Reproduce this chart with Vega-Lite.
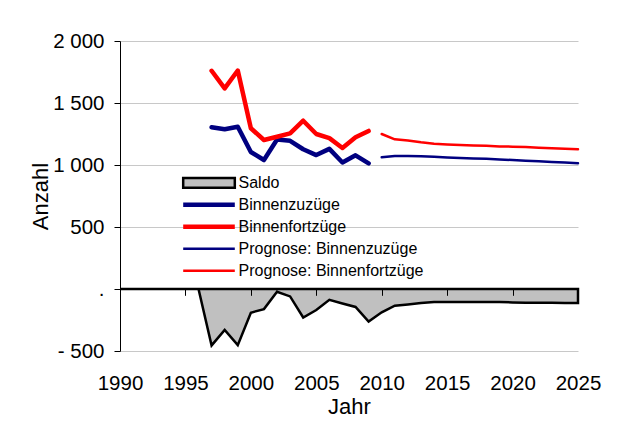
{
  "$schema": "https://vega.github.io/schema/vega-lite/v6.json",
  "width": 458,
  "height": 310,
  "autosize": {"type": "none"},
  "padding": {"left": 120, "top": 41, "right": 47, "bottom": 81},
  "background": "white",
  "config": {"font": "Liberation Sans", "view": {"stroke": null}},
  "data": {
    "values": [
      {"Jahr": 1990, "Reihe": "Saldo", "Anzahl": 0},
      {"Jahr": 1991, "Reihe": "Saldo", "Anzahl": 0},
      {"Jahr": 1992, "Reihe": "Saldo", "Anzahl": 0},
      {"Jahr": 1993, "Reihe": "Saldo", "Anzahl": 0},
      {"Jahr": 1994, "Reihe": "Saldo", "Anzahl": 0},
      {"Jahr": 1995, "Reihe": "Saldo", "Anzahl": 0},
      {"Jahr": 1996, "Reihe": "Saldo", "Anzahl": 0},
      {"Jahr": 1997, "Reihe": "Saldo", "Anzahl": -455},
      {"Jahr": 1998, "Reihe": "Saldo", "Anzahl": -330},
      {"Jahr": 1999, "Reihe": "Saldo", "Anzahl": -453},
      {"Jahr": 2000, "Reihe": "Saldo", "Anzahl": -191},
      {"Jahr": 2001, "Reihe": "Saldo", "Anzahl": -162},
      {"Jahr": 2002, "Reihe": "Saldo", "Anzahl": -23},
      {"Jahr": 2003, "Reihe": "Saldo", "Anzahl": -60},
      {"Jahr": 2004, "Reihe": "Saldo", "Anzahl": -230},
      {"Jahr": 2005, "Reihe": "Saldo", "Anzahl": -170},
      {"Jahr": 2006, "Reihe": "Saldo", "Anzahl": -87},
      {"Jahr": 2007, "Reihe": "Saldo", "Anzahl": -117},
      {"Jahr": 2008, "Reihe": "Saldo", "Anzahl": -145},
      {"Jahr": 2009, "Reihe": "Saldo", "Anzahl": -262},
      {"Jahr": 2010, "Reihe": "Saldo", "Anzahl": -188},
      {"Jahr": 2011, "Reihe": "Saldo", "Anzahl": -135},
      {"Jahr": 2012, "Reihe": "Saldo", "Anzahl": -125},
      {"Jahr": 2013, "Reihe": "Saldo", "Anzahl": -113},
      {"Jahr": 2014, "Reihe": "Saldo", "Anzahl": -105},
      {"Jahr": 2015, "Reihe": "Saldo", "Anzahl": -105},
      {"Jahr": 2016, "Reihe": "Saldo", "Anzahl": -105},
      {"Jahr": 2017, "Reihe": "Saldo", "Anzahl": -105},
      {"Jahr": 2018, "Reihe": "Saldo", "Anzahl": -105},
      {"Jahr": 2019, "Reihe": "Saldo", "Anzahl": -105},
      {"Jahr": 2020, "Reihe": "Saldo", "Anzahl": -108},
      {"Jahr": 2021, "Reihe": "Saldo", "Anzahl": -110},
      {"Jahr": 2022, "Reihe": "Saldo", "Anzahl": -110},
      {"Jahr": 2023, "Reihe": "Saldo", "Anzahl": -110},
      {"Jahr": 2024, "Reihe": "Saldo", "Anzahl": -112},
      {"Jahr": 2025, "Reihe": "Saldo", "Anzahl": -113},
      {"Jahr": 1997, "Reihe": "Binnenzuzüge", "Anzahl": 1305},
      {"Jahr": 1998, "Reihe": "Binnenzuzüge", "Anzahl": 1288},
      {"Jahr": 1999, "Reihe": "Binnenzuzüge", "Anzahl": 1309},
      {"Jahr": 2000, "Reihe": "Binnenzuzüge", "Anzahl": 1105},
      {"Jahr": 2001, "Reihe": "Binnenzuzüge", "Anzahl": 1040},
      {"Jahr": 2002, "Reihe": "Binnenzuzüge", "Anzahl": 1205},
      {"Jahr": 2003, "Reihe": "Binnenzuzüge", "Anzahl": 1195},
      {"Jahr": 2004, "Reihe": "Binnenzuzüge", "Anzahl": 1127},
      {"Jahr": 2005, "Reihe": "Binnenzuzüge", "Anzahl": 1080},
      {"Jahr": 2006, "Reihe": "Binnenzuzüge", "Anzahl": 1130},
      {"Jahr": 2007, "Reihe": "Binnenzuzüge", "Anzahl": 1020},
      {"Jahr": 2008, "Reihe": "Binnenzuzüge", "Anzahl": 1078},
      {"Jahr": 2009, "Reihe": "Binnenzuzüge", "Anzahl": 1013},
      {"Jahr": 1997, "Reihe": "Binnenfortzüge", "Anzahl": 1760},
      {"Jahr": 1998, "Reihe": "Binnenfortzüge", "Anzahl": 1618},
      {"Jahr": 1999, "Reihe": "Binnenfortzüge", "Anzahl": 1762},
      {"Jahr": 2000, "Reihe": "Binnenfortzüge", "Anzahl": 1296},
      {"Jahr": 2001, "Reihe": "Binnenfortzüge", "Anzahl": 1202},
      {"Jahr": 2002, "Reihe": "Binnenfortzüge", "Anzahl": 1228},
      {"Jahr": 2003, "Reihe": "Binnenfortzüge", "Anzahl": 1255},
      {"Jahr": 2004, "Reihe": "Binnenfortzüge", "Anzahl": 1357},
      {"Jahr": 2005, "Reihe": "Binnenfortzüge", "Anzahl": 1250},
      {"Jahr": 2006, "Reihe": "Binnenfortzüge", "Anzahl": 1217},
      {"Jahr": 2007, "Reihe": "Binnenfortzüge", "Anzahl": 1137},
      {"Jahr": 2008, "Reihe": "Binnenfortzüge", "Anzahl": 1223},
      {"Jahr": 2009, "Reihe": "Binnenfortzüge", "Anzahl": 1275},
      {"Jahr": 2010, "Reihe": "Prognose: Binnenzuzüge", "Anzahl": 1062},
      {"Jahr": 2011, "Reihe": "Prognose: Binnenzuzüge", "Anzahl": 1072},
      {"Jahr": 2012, "Reihe": "Prognose: Binnenzuzüge", "Anzahl": 1073},
      {"Jahr": 2013, "Reihe": "Prognose: Binnenzuzüge", "Anzahl": 1070},
      {"Jahr": 2014, "Reihe": "Prognose: Binnenzuzüge", "Anzahl": 1066},
      {"Jahr": 2015, "Reihe": "Prognose: Binnenzuzüge", "Anzahl": 1060},
      {"Jahr": 2016, "Reihe": "Prognose: Binnenzuzüge", "Anzahl": 1056},
      {"Jahr": 2017, "Reihe": "Prognose: Binnenzuzüge", "Anzahl": 1053},
      {"Jahr": 2018, "Reihe": "Prognose: Binnenzuzüge", "Anzahl": 1050},
      {"Jahr": 2019, "Reihe": "Prognose: Binnenzuzüge", "Anzahl": 1045},
      {"Jahr": 2020, "Reihe": "Prognose: Binnenzuzüge", "Anzahl": 1040},
      {"Jahr": 2021, "Reihe": "Prognose: Binnenzuzüge", "Anzahl": 1035},
      {"Jahr": 2022, "Reihe": "Prognose: Binnenzuzüge", "Anzahl": 1030},
      {"Jahr": 2023, "Reihe": "Prognose: Binnenzuzüge", "Anzahl": 1025},
      {"Jahr": 2024, "Reihe": "Prognose: Binnenzuzüge", "Anzahl": 1020},
      {"Jahr": 2025, "Reihe": "Prognose: Binnenzuzüge", "Anzahl": 1014},
      {"Jahr": 2010, "Reihe": "Prognose: Binnenfortzüge", "Anzahl": 1250},
      {"Jahr": 2011, "Reihe": "Prognose: Binnenfortzüge", "Anzahl": 1207},
      {"Jahr": 2012, "Reihe": "Prognose: Binnenfortzüge", "Anzahl": 1198},
      {"Jahr": 2013, "Reihe": "Prognose: Binnenfortzüge", "Anzahl": 1183},
      {"Jahr": 2014, "Reihe": "Prognose: Binnenfortzüge", "Anzahl": 1171},
      {"Jahr": 2015, "Reihe": "Prognose: Binnenfortzüge", "Anzahl": 1165},
      {"Jahr": 2016, "Reihe": "Prognose: Binnenfortzüge", "Anzahl": 1161},
      {"Jahr": 2017, "Reihe": "Prognose: Binnenfortzüge", "Anzahl": 1158},
      {"Jahr": 2018, "Reihe": "Prognose: Binnenfortzüge", "Anzahl": 1155},
      {"Jahr": 2019, "Reihe": "Prognose: Binnenfortzüge", "Anzahl": 1150},
      {"Jahr": 2020, "Reihe": "Prognose: Binnenfortzüge", "Anzahl": 1148},
      {"Jahr": 2021, "Reihe": "Prognose: Binnenfortzüge", "Anzahl": 1145},
      {"Jahr": 2022, "Reihe": "Prognose: Binnenfortzüge", "Anzahl": 1140},
      {"Jahr": 2023, "Reihe": "Prognose: Binnenfortzüge", "Anzahl": 1135},
      {"Jahr": 2024, "Reihe": "Prognose: Binnenfortzüge", "Anzahl": 1132},
      {"Jahr": 2025, "Reihe": "Prognose: Binnenfortzüge", "Anzahl": 1127}
    ]
  },
  "encoding": {
    "x": {
      "field": "Jahr",
      "type": "quantitative",
      "scale": {"domain": [1990, 2025], "nice": false, "zero": false},
      "axis": {
        "values": [1990, 1995, 2000, 2005, 2010, 2015, 2020, 2025],
        "format": "d",
        "offset": -61.7,
        "domain": false,
        "grid": false,
        "zindex": 2,
        "tickColor": "black",
        "tickSize": 6,
        "tickWidth": 1,
        "labelFontSize": 20.5,
        "labelColor": "black",
        "labelPadding": 78,
        "labelFlush": false,
        "labelOverlap": false,
        "title": "Jahr",
        "titleFontSize": 22,
        "titleFontWeight": "normal",
        "titleColor": "black",
        "titlePadding": 3
      }
    },
    "y": {
      "field": "Anzahl",
      "type": "quantitative",
      "scale": {"domain": [-500, 2000], "nice": false},
      "axis": {
        "values": [-500, 0, 500, 1000, 1500, 2000],
        "labelExpr": "datum.value == 0 ? '.' : (datum.value < 0 ? '- ' : '') + replace(format(abs(datum.value), ','), ',', ' ')",
        "domainColor": "black",
        "domainWidth": 1,
        "tickColor": "black",
        "tickSize": 6,
        "tickWidth": 1,
        "gridColor": "#c8c8c8",
        "gridWidth": 1,
        "labelFontSize": 20.5,
        "labelColor": "black",
        "labelPadding": 10,
        "labelFlush": false,
        "labelOverlap": false,
        "title": "Anzahl",
        "titleFontSize": 22,
        "titleFontWeight": "normal",
        "titleColor": "black",
        "titlePadding": 0
      }
    },
    "stroke": {
      "field": "Reihe",
      "type": "nominal",
      "sort": ["Saldo", "Binnenzuzüge", "Binnenfortzüge", "Prognose: Binnenzuzüge", "Prognose: Binnenfortzüge"],
      "scale": {
        "domain": ["Saldo", "Binnenzuzüge", "Binnenfortzüge", "Prognose: Binnenzuzüge", "Prognose: Binnenfortzüge"],
        "range": ["#000000", "#000080", "#ff0000", "#000080", "#ff0000"]
      },
      "legend": {
        "orient": "none",
        "legendX": 60.5,
        "legendY": 131,
        "title": null,
        "padding": 0,
        "symbolType": "stroke",
        "symbolSize": 2663,
        "symbolStrokeWidth": 2,
        "clipHeight": 21.6,
        "rowPadding": 0,
        "labelFontSize": 16,
        "labelColor": "black",
        "labelOffset": 1,
        "labelLimit": 400,
        "encode": {
          "symbols": {
            "update": {
              "shape": {"signal": "datum.value == 'Saldo' ? 'M-1,-0.19H1V0.19H-1Z' : 'stroke'"},
              "fill": {"signal": "datum.value == 'Saldo' ? '#c0c0c0' : 'transparent'"},
              "opacity": {"value": 1}
            }
          }
        }
      }
    }
  },
  "layer": [
    {
      "transform": [{"filter": "datum.Reihe == 'Saldo'"}],
      "mark": {"type": "area", "fill": "#c0c0c0", "fillOpacity": 1, "strokeWidth": 2.5, "strokeJoin": "miter"}
    },
    {
      "transform": [{"filter": "datum.Reihe != 'Saldo'"}],
      "mark": {"type": "line", "strokeJoin": "round", "strokeCap": "round"},
      "encoding": {
        "strokeWidth": {
          "field": "Reihe",
          "type": "nominal",
          "scale": {
            "type": "ordinal",
            "domain": ["Saldo", "Binnenzuzüge", "Binnenfortzüge", "Prognose: Binnenzuzüge", "Prognose: Binnenfortzüge"],
            "range": [2.5, 4.5, 4.5, 2.5, 2.5]
          },
          "legend": null
        }
      }
    }
  ]
}
